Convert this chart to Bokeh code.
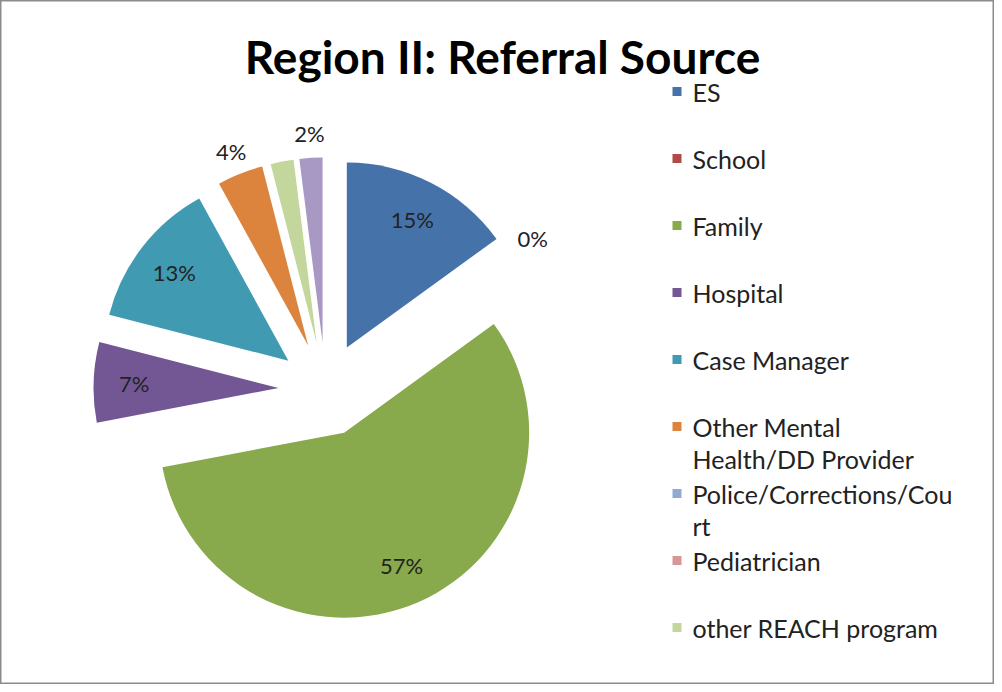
import math
from bokeh.plotting import figure
from bokeh.models import Range1d, ColumnDataSource
from bokeh.core.properties import value
from bokeh.embed import file_html
from bokeh.resources import INLINE

title_text = "Region II: Referral Source"
categories = ["ES", "School", "Family", "Hospital", "Case Manager",
              "Other Mental Health/DD Provider", "Police/Corrections/Court",
              "Pediatrician", "other REACH program", "Other"]
percent = [15, 0, 57, 7, 13, 4, 0, 0, 2, 2]
colors = ["#4672AA", "#B04A47", "#88A94C", "#735795", "#409BB2",
          "#DC843E", "#93A9D2", "#D69896", "#C3D69B", "#A799C4"]
label_mode = ["in", "out", "in", "in", "in", "out", "none", "none", "none", "out"]
legend_lines = [["ES"], ["School"], ["Family"], ["Hospital"], ["Case Manager"],
                ["Other Mental", "Health/DD Provider"],
                ["Police/Corrections/Cou", "rt"], ["Pediatrician"],
                ["other REACH program"]]

W, H = 994, 684
FONT = "Lato"

def px(ix):
    return ix - 8

def py(iy):
    return H - (iy - 8)

cx, cy = px(333), py(397)
R = 185
E = 47

p = figure(width=W, height=H, output_backend="svg", toolbar_location=None,
           x_range=Range1d(0, W), y_range=Range1d(0, H), min_border=0)
p.xaxis.visible = False
p.yaxis.visible = False
p.grid.visible = False
p.outline_line_color = "#8c8c8c"
p.outline_line_width = 2
p.background_fill_color = "white"
p.border_fill_color = "white"

total = sum(percent)
wx, wy, ws, we, wc = [], [], [], [], []
lx, ly, lt = [], [], []
cum = 0.0
for cat, v, col, mode in zip(categories, percent, colors, label_mode):
    f0 = cum / total
    f1 = (cum + v) / total
    cum += v
    mid = (f0 + f1) / 2
    amid = math.pi / 2 - 2 * math.pi * mid
    ox = cx + E * math.cos(amid)
    oy = cy + E * math.sin(amid)
    if v > 0:
        wx.append(ox); wy.append(oy)
        ws.append(math.pi / 2 - 2 * math.pi * f1)
        we.append(math.pi / 2 - 2 * math.pi * f0)
        wc.append(col)
    if mode != "none":
        d = 0.78 * R if mode == "in" else 1.13 * R
        lx.append(ox + d * math.cos(amid))
        ly.append(oy + d * math.sin(amid))
        lt.append(f"{round(100 * v / total)}%")

p.wedge(x="x", y="y", radius=R, start_angle="s", end_angle="e",
        fill_color="c", line_color=None,
        source=ColumnDataSource(dict(x=wx, y=wy, s=ws, e=we, c=wc)))

p.text(x=lx, y=ly, text=lt, text_align="center", text_baseline="middle",
       text_font=value(FONT), text_font_size="22px", text_color="#222222")

# title
p.text(x=[px(510)], y=[py(64)], text=[title_text], text_align="center",
       text_baseline="middle", text_font=value(FONT), text_font_style="bold",
       text_font_size="46px", text_color="#000000")

# legend
sq_x, sq_y, sq_c = [], [], []
tx, ty, tt = [], [], []
for i, lines in enumerate(legend_lines):
    iy = 99 + 67 * i
    sq_x.append(px(684.5)); sq_y.append(py(iy)); sq_c.append(colors[i])
    for j, line in enumerate(lines):
        tx.append(px(700)); ty.append(py(iy + 32 * j)); tt.append(line)

p.rect(x=sq_x, y=sq_y, width=9, height=9, fill_color=sq_c, line_color=None)
p.text(x=tx, y=ty, text=tt, text_align="left", text_baseline="middle",
       text_font=value(FONT), text_font_size="25px", text_color="#222222")

open("out.html", "w").write(file_html(p, INLINE))
